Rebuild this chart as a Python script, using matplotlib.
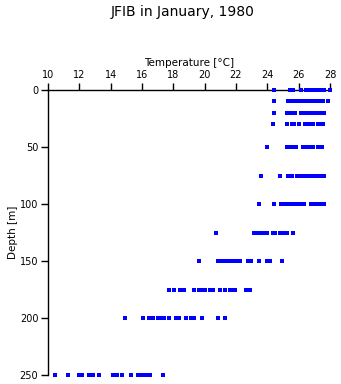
#!/usr/bin/env python3
import matplotlib
matplotlib.use("Agg")
import matplotlib.pyplot as plt
import numpy as np

# temperature readings [degC] per sampling depth [m]
t_0 = [24.40, 25.42, 25.53, 25.67, 26.12, 26.44, 26.59, 26.79, 26.95, 27.12, 27.30, 27.46, 27.59, 27.98]
t_10 = [24.40, 25.29, 25.46, 25.64, 25.80, 25.97, 26.15, 26.42, 26.57, 26.74, 26.91, 27.08, 27.25, 27.43, 27.53, 27.85]
t_20 = [24.40, 25.23, 25.49, 25.74, 26.12, 26.42, 26.57, 26.74, 26.91, 27.08, 27.25, 27.43, 27.59]
t_30 = [24.33, 25.23, 25.55, 25.72, 26.02, 26.42, 26.57, 26.74, 26.91, 27.21, 27.38, 27.53]
t_50 = [24.01, 25.23, 25.53, 25.67, 25.83, 26.27, 26.42, 26.57, 26.74, 26.91, 27.21, 27.34, 27.49]
t_75 = [23.61, 24.82, 25.29, 25.55, 25.89, 26.06, 26.23, 26.40, 26.55, 26.80, 26.95, 27.08, 27.34, 27.49, 27.59]
t_100 = [23.48, 24.40, 24.89, 25.04, 25.19, 25.34, 25.49, 25.64, 25.91, 26.06, 26.21, 26.34, 26.80, 26.95, 27.08, 27.34, 27.46, 27.59]
t_125 = [20.73, 23.12, 23.29, 23.46, 23.63, 23.80, 23.97, 24.36, 24.52, 24.78, 24.95, 25.12, 25.27, 25.67]
t_150 = [19.67, 20.86, 21.03, 21.20, 21.37, 21.55, 21.71, 21.88, 22.01, 22.27, 22.78, 22.95, 23.50, 24.01, 24.19, 24.91]
t_175 = [17.75, 18.07, 18.45, 18.65, 19.29, 19.65, 19.82, 20.05, 20.35, 20.52, 20.95, 21.27, 21.63, 21.80, 21.95, 22.61, 22.91]
t_200 = [14.92, 16.09, 16.43, 16.73, 17.05, 17.22, 17.39, 17.75, 18.14, 18.35, 18.82, 19.14, 19.29, 19.84, 20.88, 21.27]
t_250 = [10.47, 11.30, 11.98, 12.19, 12.62, 12.90, 13.28, 14.17, 14.43, 14.73, 15.32, 15.73, 15.99, 16.24, 16.52, 17.35]

depths = [0, 10, 20, 30, 50, 75, 100, 125, 150, 175, 200, 250]
temps = [t_0, t_10, t_20, t_30, t_50, t_75, t_100, t_125, t_150, t_175, t_200, t_250]

x_ticks = [10, 12, 14, 16, 18, 20, 22, 24, 26, 28]
y_ticks = [0, 50, 100, 150, 200, 250]

plt.rcParams['font.family'] = ['DejaVu Sans']

fig = plt.figure(figsize=(3.41, 3.84), dpi=100)
ax = fig.add_axes([48 / 341, 1 - 375 / 384, 282 / 341, 285 / 384])

for d, t in zip(depths, temps):
    ax.plot(t, [d] * len(t), linestyle="none", marker="s", markersize=2.3,
            markeredgewidth=0, color="#0000ff", clip_on=False, zorder=5)

ax.set_xlim(10, 28)
ax.set_ylim(250, 0)
ax.set_xticks(x_ticks)
ax.set_yticks(y_ticks)

ax.xaxis.tick_top()
ax.xaxis.set_label_position("top")
ax.spines["bottom"].set_visible(False)
ax.spines["right"].set_visible(False)
for s in ("top", "left"):
    ax.spines[s].set_linewidth(1.0)
ax.tick_params(axis="both", direction="out", length=5, width=1.0, labelsize=7, pad=2)

ax.set_xlabel("Temperature [°C]", fontsize=7.5, labelpad=3)
ax.set_ylabel("Depth [m]", fontsize=7.5, labelpad=1)

fig.text(0.535, 0.968, "JFIB in January, 1980", ha="center", va="center", fontsize=10)

fig.savefig("out.png", dpi=100, facecolor="w")
